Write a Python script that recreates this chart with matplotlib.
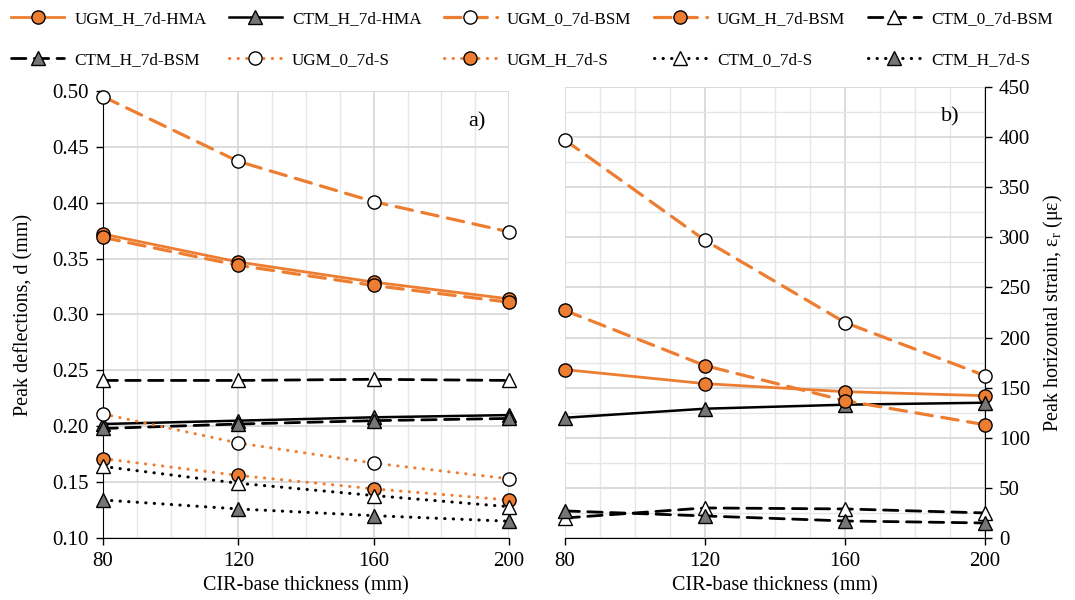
import matplotlib.pyplot as plt
from matplotlib.ticker import MultipleLocator

plt.rcParams['font.family'] = 'Liberation Serif'
plt.rcParams['mathtext.fontset'] = 'custom'
plt.rcParams['mathtext.rm'] = 'Liberation Serif'
plt.rcParams['mathtext.it'] = 'Liberation Serif:italic'

thickness = [80, 120, 160, 200]

# peak deflections, d (mm)
d_ugm_h_hma = [0.372, 0.347, 0.329, 0.314]
d_ctm_h_hma = [0.202, 0.205, 0.208, 0.210]
d_ugm_0_bsm = [0.495, 0.437, 0.401, 0.374]
d_ugm_h_bsm = [0.369, 0.344, 0.326, 0.311]
d_ctm_0_bsm = [0.241, 0.241, 0.242, 0.241]
d_ctm_h_bsm = [0.198, 0.202, 0.205, 0.207]
d_ugm_0_s = [0.211, 0.185, 0.167, 0.153]
d_ugm_h_s = [0.171, 0.156, 0.144, 0.134]
d_ctm_0_s = [0.164, 0.149, 0.138, 0.128]
d_ctm_h_s = [0.134, 0.126, 0.120, 0.115]

# peak horizontal strain (microstrain)
e_ugm_h_hma = [168, 154, 146, 142]
e_ctm_h_hma = [120, 129, 133, 135]
e_ugm_0_bsm = [397, 297, 215, 162]
e_ugm_h_bsm = [227, 172, 137, 113]
e_ctm_0_bsm = [20, 30, 29, 25]
e_ctm_h_bsm = [27, 22, 17, 15]

ORANGE = '#ED7D31'
GRAY = '#767676'

dashed = (0, (5.2, 3.0))
dotted = (0, (0.1, 2.7))

styles = {
    'UGM_H_7d-HMA': dict(color=ORANGE, ls='-', lw=2.0, marker='o', mfc=ORANGE),
    'CTM_H_7d-HMA': dict(color='black', ls='-', lw=1.8, marker='^', mfc=GRAY),
    'UGM_0_7d-BSM': dict(color=ORANGE, ls=dashed, lw=2.3, marker='o', mfc='white'),
    'UGM_H_7d-BSM': dict(color=ORANGE, ls=dashed, lw=2.3, marker='o', mfc=ORANGE),
    'CTM_0_7d-BSM': dict(color='black', ls=dashed, lw=2.0, marker='^', mfc='white'),
    'CTM_H_7d-BSM': dict(color='black', ls=dashed, lw=2.0, marker='^', mfc=GRAY),
    'UGM_0_7d-S': dict(color=ORANGE, ls=dotted, lw=2.2, marker='o', mfc='white'),
    'UGM_H_7d-S': dict(color=ORANGE, ls=dotted, lw=2.2, marker='o', mfc=ORANGE),
    'CTM_0_7d-S': dict(color='black', ls=dotted, lw=2.2, marker='^', mfc='white'),
    'CTM_H_7d-S': dict(color='black', ls=dotted, lw=2.2, marker='^', mfc=GRAY),
}

deflections = {
    'UGM_H_7d-HMA': d_ugm_h_hma, 'CTM_H_7d-HMA': d_ctm_h_hma,
    'UGM_0_7d-BSM': d_ugm_0_bsm, 'UGM_H_7d-BSM': d_ugm_h_bsm,
    'CTM_0_7d-BSM': d_ctm_0_bsm, 'CTM_H_7d-BSM': d_ctm_h_bsm,
    'UGM_0_7d-S': d_ugm_0_s, 'UGM_H_7d-S': d_ugm_h_s,
    'CTM_0_7d-S': d_ctm_0_s, 'CTM_H_7d-S': d_ctm_h_s,
}
strains = {
    'UGM_H_7d-HMA': e_ugm_h_hma, 'CTM_H_7d-HMA': e_ctm_h_hma,
    'UGM_0_7d-BSM': e_ugm_0_bsm, 'UGM_H_7d-BSM': e_ugm_h_bsm,
    'CTM_0_7d-BSM': e_ctm_0_bsm, 'CTM_H_7d-BSM': e_ctm_h_bsm,
}

TICK_FS = 15
LABEL_FS = 14.5

fig = plt.figure(figsize=(10.75, 6.0), dpi=100)
ax1 = fig.add_axes([103 / 1075, 62 / 600, 406 / 1075, 447 / 600])
ax2 = fig.add_axes([565 / 1075, 62 / 600, 420 / 1075, 451 / 600])


def draw(ax, data):
    lines = {}
    for name, vals in data.items():
        st = styles[name]
        ln, = ax.plot(thickness, vals, color=st['color'], linestyle=st['ls'],
                      linewidth=st['lw'], marker=st['marker'], markersize=9.5,
                      markerfacecolor=st['mfc'], markeredgecolor='black',
                      markeredgewidth=1.0, dash_capstyle='round',
                      clip_on=False, zorder=3, label=name)
        lines[name] = ln
    return lines


lines = draw(ax1, deflections)
draw(ax2, strains)

for ax in (ax1, ax2):
    ax.set_xlim(80, 200)
    ax.set_xticks(thickness)
    ax.xaxis.set_minor_locator(MultipleLocator(10))
    ax.grid(which='major', axis='x', color='#d9d9d9', lw=1.3, zorder=0)
    ax.grid(which='minor', axis='x', color='#e6e6e6', lw=1.0, zorder=0)
    ax.set_axisbelow(True)
    ax.tick_params(axis='x', which='major', direction='out', length=5, width=1,
                   labelsize=TICK_FS, pad=5)
    ax.tick_params(axis='x', which='minor', length=0)
    ax.spines['top'].set_visible(False)
    ax.set_xlabel('CIR-base thickness (mm)', fontsize=LABEL_FS, labelpad=4)

# left panel: deflections
ax1.set_ylim(0.10, 0.50)
ax1.yaxis.set_major_locator(MultipleLocator(0.05))
ax1.yaxis.set_major_formatter(plt.FormatStrFormatter('%.2f'))
ax1.grid(which='major', axis='y', color='#d9d9d9', lw=1.3, zorder=0)
ax1.spines['right'].set_visible(False)
ax1.tick_params(axis='y', direction='out', length=5, width=1,
                labelsize=TICK_FS, pad=5)
ax1.set_ylabel('Peak deflections, d (mm)', fontsize=LABEL_FS, labelpad=14)
ax1.text(0.92, 0.93, 'a)', transform=ax1.transAxes, fontsize=16,
         ha='center', va='center')

# right panel: horizontal strain
ax2.set_ylim(0, 450)
ax2.yaxis.set_major_locator(MultipleLocator(50))
ax2.yaxis.set_minor_locator(MultipleLocator(25))
ax2.grid(which='major', axis='y', color='#d9d9d9', lw=1.3, zorder=0)
ax2.grid(which='minor', axis='y', color='#e6e6e6', lw=1.0, zorder=0)
ax2.spines['left'].set_visible(False)
ax2.yaxis.tick_right()
ax2.yaxis.set_label_position('right')
ax2.tick_params(axis='y', which='major', direction='out', length=5, width=1,
                labelsize=TICK_FS, pad=5)
ax2.tick_params(axis='y', which='minor', length=0)
ax2.set_ylabel(r'Peak horizontal strain, ε$_\mathregular{r}$ (με)',
               fontsize=LABEL_FS, labelpad=8)
ax2.text(0.917, 0.933, 'b)', transform=ax2.transAxes, fontsize=16,
         ha='center', va='center')

# legend across the top, two rows of five
names = list(styles.keys())
order = [names[i // 2 + 5 * (i % 2)] for i in range(10)]
fig.legend([lines[n] for n in order], order, ncol=5, loc='upper left',
           bbox_to_anchor=(0.0, 1.0), frameon=False, fontsize=12.3,
           handlelength=3.1, handletextpad=0.6, columnspacing=1.3,
           labelspacing=1.45, borderaxespad=0.55, borderpad=0.1)

fig.savefig('out.png', dpi=100)
